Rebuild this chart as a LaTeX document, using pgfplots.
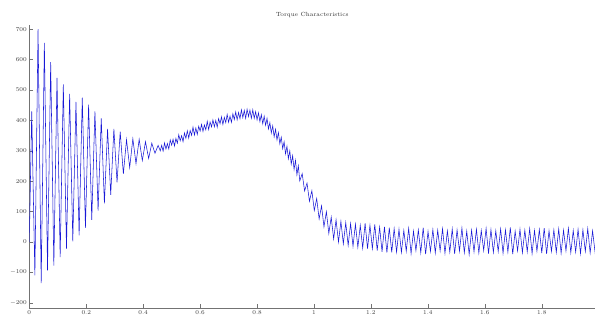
\documentclass[border=0pt]{standalone}
\usepackage{pgfplots}
\pgfplotsset{compat=1.18}
\usepackage{pgfplotstable}
\pgfplotstableread{
t v
0 0
0.0085 430
0.0196 -110
0.0307 700
0.0418 -135
0.0529 655
0.0640 -93
0.0751 592
0.0862 -78
0.0973 540
0.1084 -50
0.1195 519
0.1306 -22
0.1417 487
0.1528 2
0.1639 461
0.1750 22
0.1861 475
0.1972 47
0.2083 452
0.2194 73
0.2305 430
0.2416 103
0.2527 407
0.2638 127
0.2749 372
0.2860 155
0.2971 372
0.3082 196
0.3193 363
0.3304 224
0.3415 337
0.3526 245
0.3637 340
0.3748 258
0.3859 338
0.3970 268
0.4081 330
0.4192 275
0.4303 325
0.4414 292
0.4525 318
0.4600 300
0.465 318
0.470 299
0.475 326
0.480 306
0.485 324
0.490 306
0.495 336
0.500 319
0.505 338
0.510 316
0.515 341
0.520 325
0.525 353
0.530 333
0.535 350
0.540 330
0.545 359
0.550 341
0.555 366
0.560 342
0.565 367
0.570 351
0.575 378
0.580 352
0.585 375
0.590 354
0.595 381
0.600 365
0.605 387
0.610 364
0.615 385
0.620 369
0.625 397
0.630 370
0.635 395
0.640 379
0.645 402
0.650 379
0.655 400
0.660 378
0.665 406
0.670 389
0.675 412
0.680 387
0.685 410
0.690 393
0.695 420
0.700 394
0.705 414
0.710 394
0.715 422
0.720 403
0.725 428
0.730 402
0.735 426
0.740 406
0.745 435
0.750 409
0.755 433
0.760 407
0.765 437
0.770 413
0.775 434
0.780 407
0.785 435
0.790 407
0.795 429
0.800 402
0.805 425
0.810 396
0.815 419
0.820 389
0.825 414
0.830 384
0.835 407
0.840 372
0.845 393
0.850 359
0.855 382
0.860 346
0.865 371
0.870 336
0.875 360
0.880 323
0.885 345
0.890 307
0.895 330
0.900 290
0.905 315
0.910 274
0.915 300
0.920 256
0.925 284
0.930 239
0.935 269
0.940 221
0.945 251
0.950 201
0.9585 225
0.967 168
0.9755 194
0.984 134
0.9925 169
1.001 104
1.0095 143
1.018 76
1.0265 119
1.035 50
1.0435 100
1.052 28
1.0605 82
1.069 10
1.0775 73
1.086 0
1.0945 68
1.103 -6
1.1115 64
1.12 -11
1.1285 61
1.137 -14
1.1455 59
1.154 -17
1.1625 55
1.171 -20
1.1795 62
1.188 -22
1.1965 55
1.205 -22
1.2135 58
1.222 -28
1.2305 49
1.239 -32
1.2475 50
1.256 -35
1.2645 47
1.273 -34
1.2815 44
1.29 -33
1.2985 42
1.3070 -34
1.3155 38
1.3240 -30
1.3325 45
1.3410 -38
1.3495 36
1.3580 -28
1.3665 40
1.3750 -35
1.3835 47
1.3920 -40
1.4005 35
1.4090 -31
1.4175 41
1.4260 -36
1.4345 39
1.4430 -29
1.4515 44
1.4600 -37
1.4685 37
1.4770 -33
1.4855 43
1.4940 -39
1.5025 40
1.5110 -30
1.5195 46
1.5280 -35
1.5365 36
1.5450 -41
1.5535 39
1.5620 -32
1.5705 42
1.5790 -36
1.5875 38
1.5960 -28
1.6045 45
1.6130 -38
1.6215 41
1.6300 -34
1.6385 37
1.6470 -31
1.6555 43
1.6640 -37
1.6725 40
1.6810 -33
1.6895 48
1.6980 -40
1.7065 36
1.7150 -29
1.7235 42
1.7320 -35
1.7405 39
1.7490 -32
1.7575 44
1.7660 -38
1.7745 38
1.7830 -30
1.7915 41
1.8000 -36
1.8085 46
1.8170 -39
1.8255 37
1.8340 -31
1.8425 40
1.8510 -34
1.8595 43
1.8680 -37
1.8765 39
1.8850 -29
1.8935 45
1.9020 -35
1.9105 38
1.9190 -33
1.9275 42
1.9360 -38
1.9445 40
1.9530 -31
1.9615 44
1.9700 -36
1.9785 37
1.9870 -32
1.9955 41
}\torque
\begin{document}
\begin{tikzpicture}
\begin{axis}[
  name=ax,
  scale only axis,
  width=565.7bp, height=283.3bp,
  xmin=0, xmax=1.987,
  ymin=-218, ymax=714,
  axis x line=bottom, axis y line=left,
  axis line style={-, draw=black!55, line width=0.6pt},
  tick align=inside,
  major tick length=4bp,
  tick style={draw=black!55, line width=0.5pt},
  xtick={0,0.2,...,1.8},
  ytick={-200,-100,...,700},
  xticklabels={0,0.2,0.4,0.6,0.8,1,1.2,1.4,1.6,1.8},
  ticklabel style={font=\fontsize{6}{7}\selectfont, text=black!75},
  xticklabel style={yshift=1bp},
  yticklabel style={xshift=1bp},
  title={Torque Characteristics},
  title style={font=\fontsize{6}{7}\selectfont, text=black!80, yshift=-2bp},
  clip=true,
]
\addplot[color={rgb,255:red,25;green,25;blue,215}, line width=0.55pt] table[x=t, y=v] {\torque};
\end{axis}
\pgfresetboundingbox
\path[use as bounding box] ([shift={(-29.3bp,-11.7bp)}]ax.south west) rectangle ([shift={(0bp,25bp)}]ax.north east);
\end{tikzpicture}
\end{document}
